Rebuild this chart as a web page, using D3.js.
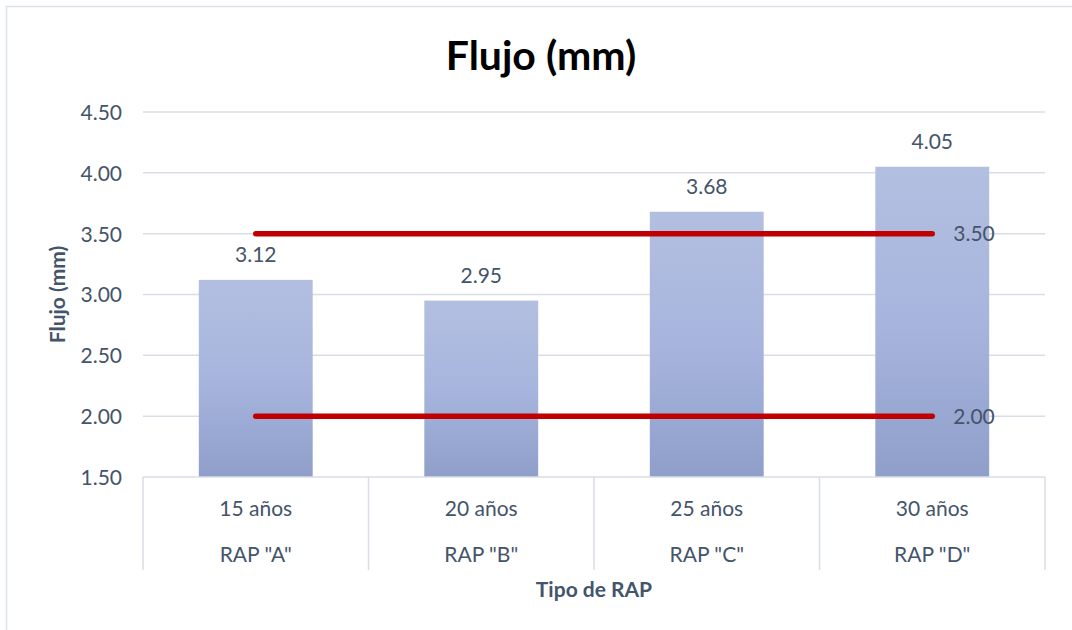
<!DOCTYPE html>
<html>
<head>
<meta charset="utf-8">
<script src="https://cdn.jsdelivr.net/npm/d3@7"></script>
<style>
  html, body { margin: 0; padding: 0; background: #fff; overflow: hidden; }
  svg { display: block; }
  text { font-family: Lato, "Open Sans", "Noto Sans", sans-serif; }
</style>
</head>
<body>
<svg id="chart" width="1072" height="630"></svg>
<script>
// Flow values per RAP type
const years = ["15 años", "20 años", "25 años", "30 años"];
const rapTypes = ['RAP "A"', 'RAP "B"', 'RAP "C"', 'RAP "D"'];
const flujo = [3.12, 2.95, 3.68, 4.05];
// Limit lines (max / min)
const limits = [3.50, 2.00];
const yTicks = [1.5, 2.0, 2.5, 3.0, 3.5, 4.0, 4.5];

const svg = d3.select("#chart");
const W = 1072, H = 630;
const textColor = "#44546A";
const gridColor = "#D9DEE6";
const labelSize = "21px";

// chart frame (runs off the right and bottom edges)
svg.append("rect")
  .attr("x", 6.5).attr("y", 6.5).attr("width", W + 20).attr("height", H + 20)
  .attr("fill", "#fff").attr("stroke", "#DCE1E8").attr("stroke-width", 1.5);

const plot = { left: 143, right: 1045, top: 112, bottom: 477 };

const x = d3.scaleBand().domain(d3.range(flujo.length))
  .range([plot.left, plot.right]).paddingInner(0).paddingOuter(0);
const y = d3.scaleLinear().domain([1.5, 4.5]).range([plot.bottom, plot.top]);

// gradient for bars
const defs = svg.append("defs");
const grad = defs.append("linearGradient").attr("id", "barGrad")
  .attr("x1", 0).attr("y1", 0).attr("x2", 0).attr("y2", 1);
grad.append("stop").attr("offset", "0%").attr("stop-color", "#B3BFE0");
grad.append("stop").attr("offset", "50%").attr("stop-color", "#A7B5DE");
grad.append("stop").attr("offset", "100%").attr("stop-color", "#8F9FCA");

// horizontal gridlines
svg.append("g")
  .selectAll("line").data(yTicks.slice(1)).join("line")
  .attr("x1", plot.left).attr("x2", plot.right)
  .attr("y1", d => y(d)).attr("y2", d => y(d))
  .attr("stroke", gridColor).attr("stroke-width", 1.5);

// y axis tick labels
const yAxis = d3.axisLeft(y).tickValues(yTicks).tickFormat(d3.format(".2f")).tickSize(0).tickPadding(21);
const gy = svg.append("g").attr("transform", `translate(${plot.left},0)`).call(yAxis);
gy.select(".domain").remove();
gy.selectAll("text").attr("fill", textColor).style("font-size", labelSize)
  .style("font-family", "Lato, 'Open Sans', sans-serif").attr("dy", "0.35em");

// bars
const barW = x.bandwidth() * 0.505;
svg.append("g").selectAll("rect").data(flujo).join("rect")
  .attr("x", (d, i) => x(i) + (x.bandwidth() - barW) / 2)
  .attr("width", barW)
  .attr("y", d => y(d))
  .attr("height", d => y(1.5) - y(d))
  .attr("fill", "url(#barGrad)");

// value labels above bars
svg.append("g").selectAll("text").data(flujo).join("text")
  .attr("x", (d, i) => x(i) + x.bandwidth() / 2)
  .attr("y", d => y(d) - 18)
  .attr("text-anchor", "middle")
  .attr("fill", textColor).style("font-size", labelSize)
  .text(d => d3.format(".2f")(d));

// category axis: baseline and separators
const axisG = svg.append("g");
axisG.append("line")
  .attr("x1", plot.left).attr("x2", plot.right)
  .attr("y1", plot.bottom).attr("y2", plot.bottom)
  .attr("stroke", gridColor).attr("stroke-width", 1.5);
const seps = d3.range(flujo.length + 1).map(i => i < flujo.length ? x(i) : plot.right);
axisG.selectAll("line.sep").data(seps).join("line").attr("class", "sep")
  .attr("x1", d => d).attr("x2", d => d)
  .attr("y1", plot.bottom).attr("y2", 570)
  .attr("stroke", gridColor).attr("stroke-width", 1.5);

axisG.selectAll("text.yr").data(years).join("text").attr("class", "yr")
  .attr("x", (d, i) => x(i) + x.bandwidth() / 2).attr("y", 516)
  .attr("text-anchor", "middle").attr("fill", textColor).style("font-size", labelSize)
  .text(d => d);
axisG.selectAll("text.rap").data(rapTypes).join("text").attr("class", "rap")
  .attr("x", (d, i) => x(i) + x.bandwidth() / 2).attr("y", 562)
  .attr("text-anchor", "middle").attr("fill", textColor).style("font-size", labelSize)
  .text(d => d);

// limit lines from first to last category centre
const cx0 = x(0) + x.bandwidth() / 2;
const cx1 = x(flujo.length - 1) + x.bandwidth() / 2;
svg.append("g").selectAll("line").data(limits).join("line")
  .attr("x1", cx0).attr("x2", cx1)
  .attr("y1", d => y(d)).attr("y2", d => y(d))
  .attr("stroke", "#C00000").attr("stroke-width", 5.5).attr("stroke-linecap", "round");
svg.append("g").selectAll("text").data(limits).join("text")
  .attr("x", cx1 + 21).attr("y", d => y(d)).attr("dy", "0.35em")
  .attr("fill", textColor).style("font-size", labelSize)
  .text(d => d3.format(".2f")(d));

// axis titles
svg.append("text")
  .attr("x", (plot.left + plot.right) / 2).attr("y", 597)
  .attr("text-anchor", "middle").attr("fill", textColor)
  .style("font-size", "21px").style("font-weight", "bold")
  .text("Tipo de RAP");
svg.append("text")
  .attr("transform", `translate(65,${(plot.top + plot.bottom) / 2}) rotate(-90)`)
  .attr("text-anchor", "middle").attr("fill", textColor)
  .style("font-size", "21px").style("font-weight", "bold")
  .text("Flujo (mm)");

// chart title
svg.append("text")
  .attr("x", 541).attr("y", 70)
  .attr("text-anchor", "middle").attr("fill", "#000")
  .style("font-size", "41px").style("font-weight", "bold")
  .text("Flujo (mm)");
</script>
</body>
</html>
